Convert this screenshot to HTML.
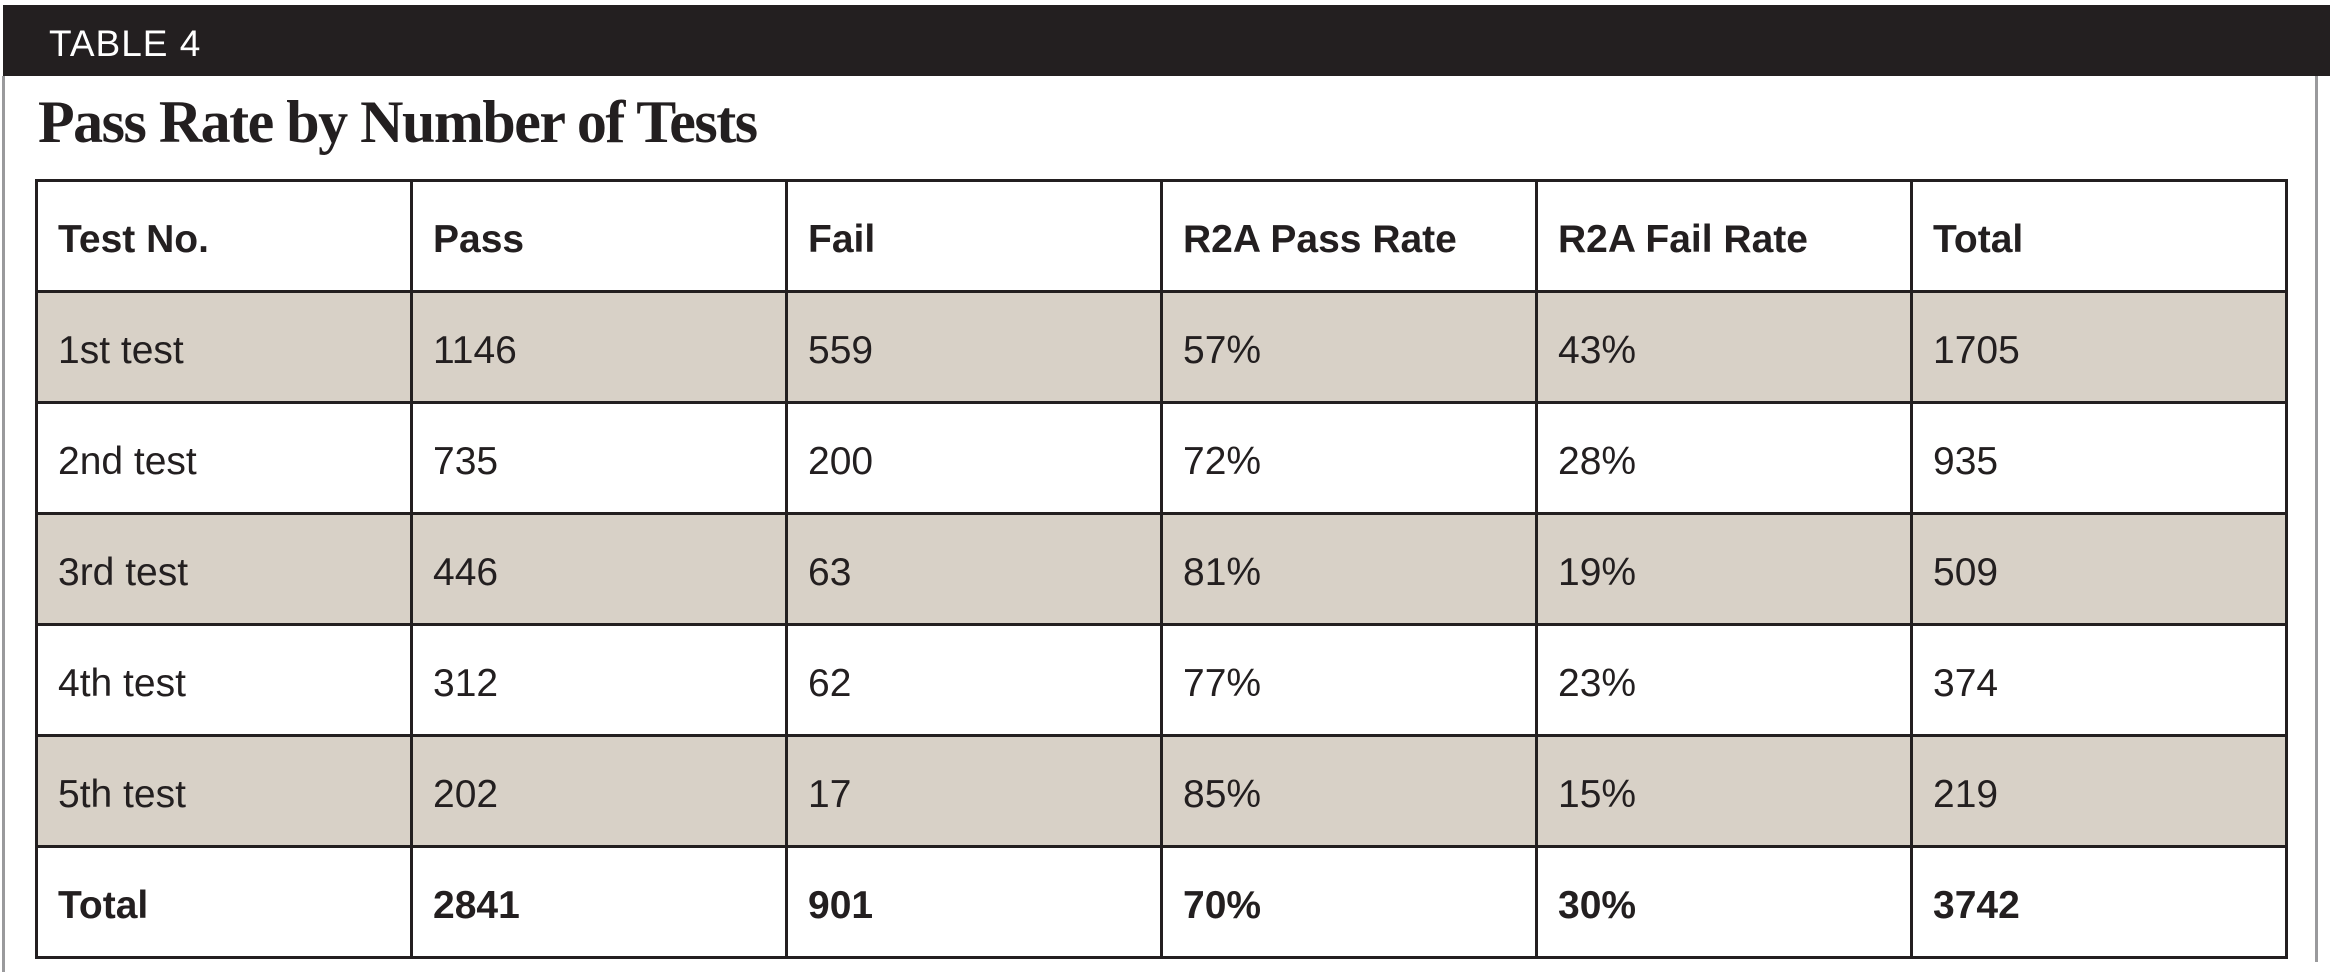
<!DOCTYPE html>
<html><head><meta charset="utf-8"><style>
body{margin:0;width:2330px;height:972px;background:#fff;position:relative;overflow:hidden;font-family:"Liberation Sans",sans-serif;color:#231f20}
.bar{position:absolute;left:3px;top:5px;width:2327px;height:71px;background:#231f20}
.bar span{position:absolute;left:46px;top:18px;color:#fff;font-size:37px;letter-spacing:1px}
.gl{position:absolute;left:2px;top:76px;width:3px;height:896px;background:#9a9a9c}
.gr{position:absolute;left:2315px;top:76px;width:3px;height:886px;background:#9a9a9c}
h1{position:absolute;left:38px;top:88px;margin:0;font-family:"Liberation Serif",serif;font-weight:bold;font-size:60px;letter-spacing:-1.5px;white-space:nowrap}
table{position:absolute;left:35px;top:179px;width:2253px;border-collapse:collapse;table-layout:fixed}
td{border:3px solid #231f20;height:111px;padding:8px 0 0 20px;box-sizing:border-box;font-size:39px;vertical-align:middle}
tr.g td{background:#d8d1c7}
tr.b td{font-weight:bold}
</style></head><body>
<div class="bar"><span>TABLE 4</span></div>
<div class="gl"></div><div class="gr"></div>
<h1>Pass Rate by Number of Tests</h1>
<table>
<tr class="b"><td>Test No.</td><td>Pass</td><td>Fail</td><td>R2A Pass Rate</td><td>R2A Fail Rate</td><td>Total</td></tr>
<tr class="g"><td>1st test</td><td>1146</td><td>559</td><td>57%</td><td>43%</td><td>1705</td></tr>
<tr><td>2nd test</td><td>735</td><td>200</td><td>72%</td><td>28%</td><td>935</td></tr>
<tr class="g"><td>3rd test</td><td>446</td><td>63</td><td>81%</td><td>19%</td><td>509</td></tr>
<tr><td>4th test</td><td>312</td><td>62</td><td>77%</td><td>23%</td><td>374</td></tr>
<tr class="g"><td>5th test</td><td>202</td><td>17</td><td>85%</td><td>15%</td><td>219</td></tr>
<tr class="b"><td>Total</td><td>2841</td><td>901</td><td>70%</td><td>30%</td><td>3742</td></tr>
</table>
</body></html>
